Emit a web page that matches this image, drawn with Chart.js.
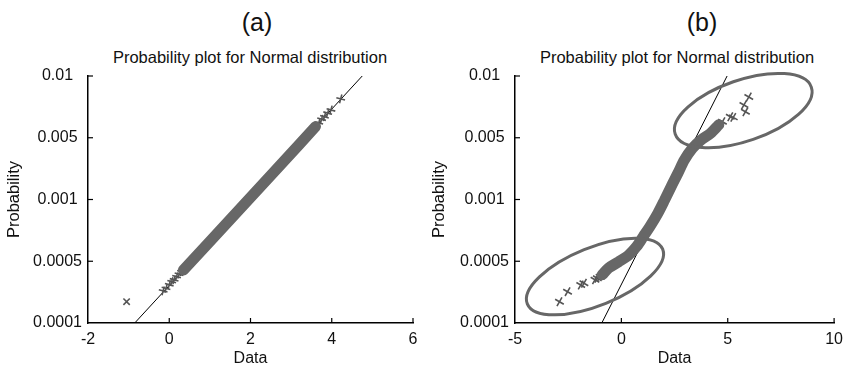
<!DOCTYPE html>
<html>
<head>
<meta charset="utf-8">
<script src="https://cdn.jsdelivr.net/npm/chart.js@4"></script>
<style>
  body { margin: 0; background: #fff; font-family: "Liberation Sans", Arial, sans-serif; }
  .panel { position: absolute; top: 0; width: 425px; height: 368px; }
  .panel canvas { position: absolute; left: 0; top: 0; }
  .tag { position: absolute; top: 7px; width: 60px; margin-left: -30px; text-align: center; font-size: 25px; line-height: 30px; color: #111; }
  .sub { position: absolute; top: 47px; width: 340px; margin-left: -170px; text-align: center; font-size: 16.5px; line-height: 20px; color: #111; }
</style>
</head>
<body>
<div class="panel" style="left:0">
  <div class="tag" style="left:257px">(a)</div>
  <div class="sub" style="left:250px">Probability plot for Normal distribution</div>
  <canvas id="chartA" width="425" height="368"></canvas>
</div>
<div class="panel" style="left:425px">
  <div class="tag" style="left:277px">(b)</div>
  <div class="sub" style="left:252px">Probability plot for Normal distribution</div>
  <canvas id="chartB" width="425" height="368"></canvas>
</div>
<script>
// ===== Dados =====
const probTicks = ['0.0001', '0.0005', '0.001', '0.005', '0.01'];

// (a) amostra normal
const bandAX = [0.35, 1.0, 1.8, 2.6, 3.2, 3.6];
const bandAY = [0.86, 1.32, 1.89, 2.46, 2.89, 3.18];
const tailAX = [-0.15, -0.08, 0.0, 0.06, 0.12, 0.18, 0.24, 0.3, 3.6, 3.68, 3.75, 3.82, 3.9, 3.98, 4.22];
const tailAY = [0.52, 0.56, 0.62, 0.67, 0.70, 0.75, 0.79, 0.83, 3.18, 3.24, 3.30, 3.34, 3.40, 3.45, 3.63];
const outlierAX = [-1.05];
const outlierAY = [0.345];
const refAX = [-0.85, 4.75];
const refAY = [0, 4];

// (b) amostra com caudas pesadas
const bandBX = [-0.90, -0.60, -0.13, 0.34, 0.72, 1.03, 1.34, 1.72, 2.03, 2.34, 2.65, 2.96, 3.34, 3.73, 4.19, 4.58];
const bandBY = [0.78, 0.89, 0.99, 1.10, 1.24, 1.40, 1.56, 1.78, 1.99, 2.21, 2.42, 2.64, 2.83, 2.96, 3.07, 3.21];
const tailBX = [-2.91, -2.53, -1.91, -1.76, -1.24, -1.13, -1.0, 4.75, 5.12, 5.26, 5.76, 5.83, 5.99];
const tailBY = [0.345, 0.507, 0.615, 0.643, 0.70, 0.724, 0.75, 3.26, 3.34, 3.33, 3.53, 3.42, 3.66];
const refBX = [-0.92, 4.97];
const refBY = [0, 4];
const ellipseX = [-1.24, 5.73];
const ellipseY = [0.753, 3.44];

const gray = '#676767';
const pts = (xs, ys) => xs.map((x, i) => ({ x: x, y: ys[i] }));

Chart.defaults.font.family = '"Liberation Sans", Arial, sans-serif';
Chart.defaults.color = '#111';

// ===== Marcas internas dos eixos =====
const innerTicks = {
  id: 'innerTicks',
  afterDraw(chart) {
    const { ctx, chartArea, scales } = chart;
    ctx.save();
    ctx.strokeStyle = '#000';
    ctx.lineWidth = 1.2;
    scales.x.ticks.forEach(t => {
      const px = scales.x.getPixelForValue(t.value);
      if (px - chartArea.left < 2) return;
      ctx.beginPath();
      ctx.moveTo(px, chartArea.bottom);
      ctx.lineTo(px, chartArea.bottom - 5);
      ctx.stroke();
    });
    scales.y.ticks.forEach(t => {
      const py = scales.y.getPixelForValue(t.value);
      if (chartArea.bottom - py < 2) return;
      ctx.beginPath();
      ctx.moveTo(chartArea.left, py);
      ctx.lineTo(chartArea.left + 5, py);
      ctx.stroke();
    });
    ctx.restore();
  }
};

// ===== Elipses de destaque =====
const ellipses = {
  id: 'ellipses',
  afterDatasetsDraw(chart, args, opts) {
    if (!opts.items) return;
    const { ctx, scales } = chart;
    ctx.save();
    ctx.strokeStyle = opts.color;
    ctx.lineWidth = opts.width;
    opts.items.forEach(e => {
      const cx = scales.x.getPixelForValue(e.x);
      const cy = scales.y.getPixelForValue(e.y);
      ctx.beginPath();
      ctx.ellipse(cx, cy, e.rx, e.ry, e.rot * Math.PI / 180, 0, Math.PI * 2);
      ctx.stroke();
    });
    ctx.restore();
  }
};

function makeOptions(xMin, xMax, step, axisWidth, ellipseItems) {
  return {
    responsive: false,
    animation: false,
    layout: { padding: { top: 76, right: 12, left: 0, bottom: 0 } },
    plugins: {
      legend: { display: false },
      tooltip: { enabled: false },
      ellipses: { items: ellipseItems, color: gray, width: 3 }
    },
    scales: {
      x: {
        type: 'linear',
        min: xMin,
        max: xMax,
        grid: { display: false, drawTicks: false },
        border: { display: true, color: '#000', width: 1.5 },
        ticks: { stepSize: step, padding: 7, font: { size: 16 } },
        title: { display: true, text: 'Data', font: { size: 16 }, padding: { top: 0, bottom: 0 } },
        afterFit: s => { s.height = 45; }
      },
      y: {
        type: 'linear',
        min: 0,
        max: 4,
        grid: { display: false, drawTicks: false },
        border: { display: true, color: '#000', width: 1.5 },
        ticks: {
          stepSize: 1,
          padding: 6,
          crossAlign: 'center',
          font: { size: 16 },
          callback: v => probTicks[v]
        },
        title: { display: true, text: 'Probability', font: { size: 16.5 }, padding: { top: 5, bottom: 0 } },
        afterFit: s => { s.width = axisWidth; }
      }
    }
  };
}

function bandSet(xs, ys, tension) {
  return {
    data: pts(xs, ys), showLine: true, borderColor: gray, borderWidth: 11,
    borderCapStyle: 'round', borderJoinStyle: 'round', tension: tension, pointRadius: 0
  };
}
function tailSet(xs, ys, style, rot, r) {
  return {
    data: pts(xs, ys), showLine: false, pointStyle: style, rotation: rot,
    pointRadius: r, borderColor: '#555', borderWidth: 1.6
  };
}
function refSet(xs, ys) {
  return { data: pts(xs, ys), showLine: true, borderColor: '#000', borderWidth: 1, pointRadius: 0 };
}

new Chart(document.getElementById('chartA'), {
  type: 'scatter',
  data: {
    datasets: [
      bandSet(bandAX, bandAY, 0),
      tailSet(tailAX, tailAY, 'cross', 15, 4.5),
      tailSet(outlierAX, outlierAY, 'crossRot', 0, 4.5),
      refSet(refAX, refAY)
    ]
  },
  options: makeOptions(-2, 6, 2, 88, []),
  plugins: [innerTicks, ellipses]
});

new Chart(document.getElementById('chartB'), {
  type: 'scatter',
  data: {
    datasets: [
      bandSet(bandBX, bandBY, 0.3),
      tailSet(tailBX, tailBY, 'cross', 30, 5),
      refSet(refBX, refBY)
    ]
  },
  options: makeOptions(-5, 10, 5, 90, [
    { x: ellipseX[0], y: ellipseY[0], rx: 73, ry: 29, rot: -22 },
    { x: ellipseX[1], y: ellipseY[1], rx: 72, ry: 30.5, rot: -19 }
  ]),
  plugins: [innerTicks, ellipses]
});
</script>
</body>
</html>
